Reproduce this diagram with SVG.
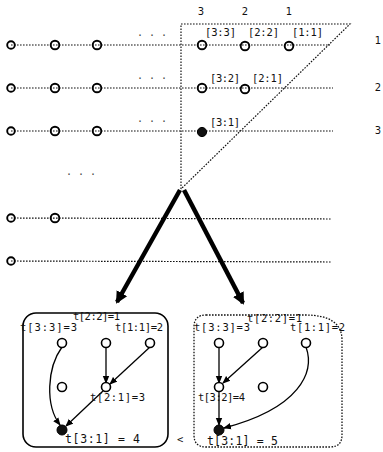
<svg xmlns="http://www.w3.org/2000/svg" width="383" height="452" viewBox="0 0 383 452">
<defs>
<style>
.dot{fill:none;stroke:#111;stroke-width:1.2;stroke-dasharray:1.6 1.4}
.n{fill:none;stroke:#000;stroke-width:1.9}
.bn{fill:#fff;stroke:#000;stroke-width:1.6}
.f{fill:#111;stroke:#000;stroke-width:1}
.e{fill:none;stroke:#000;stroke-width:1.3}
.lab{font-family:"DejaVu Sans Mono",monospace;font-size:10.5px;fill:#111}
.el{font-family:"DejaVu Sans Mono",monospace;font-size:10px;fill:#444}
.num{font-family:"DejaVu Sans",sans-serif;font-size:10px;fill:#111}
.big{fill:none;stroke:#000;stroke-width:4.5}
</style>
<marker id="ah" markerWidth="8" markerHeight="8" refX="7" refY="4" orient="auto" markerUnits="userSpaceOnUse">
<path d="M0,0.8 L8,4 L0,7.2 Z" fill="#000"/>
</marker>
<marker id="bh" markerWidth="14" markerHeight="14" refX="10" refY="7" orient="auto" markerUnits="userSpaceOnUse">
<path d="M0,1 L12,7 L0,13 Z" fill="#000"/>
</marker>
</defs>
<g id="connectors">
<line class="dot" x1="11" y1="45" x2="330" y2="45"/>
<line class="dot" x1="11" y1="88" x2="333" y2="88"/>
<line class="dot" x1="11" y1="131" x2="333" y2="131"/>
<line class="dot" x1="11" y1="218" x2="332" y2="219"/>
<line class="dot" x1="11" y1="261" x2="332" y2="262"/>
<path class="dot" d="M181,189 L181,24 L350,24 L181,189"/>
<line class="big" x1="180" y1="190" x2="117" y2="302" marker-end="url(#bh)"/>
<line class="big" x1="184" y1="190" x2="243" y2="303" marker-end="url(#bh)"/>
<path class="e" d="M62,347 C47,368 45,405 60,425" marker-end="url(#ah)"/>
<line class="e" x1="106" y1="347" x2="106" y2="383" marker-end="url(#ah)"/>
<line class="e" x1="150" y1="347" x2="110" y2="384" marker-end="url(#ah)"/>
<line class="e" x1="103" y1="391" x2="66" y2="426" marker-end="url(#ah)"/>
<line class="e" x1="219" y1="347" x2="219" y2="383" marker-end="url(#ah)"/>
<line class="e" x1="263" y1="347" x2="223" y2="383" marker-end="url(#ah)"/>
<line class="e" x1="219" y1="391" x2="219" y2="425" marker-end="url(#ah)"/>
<path class="e" d="M306,347 C315,372 300,408 224,428" marker-end="url(#ah)"/>
</g>
<g id="grid">
<text class="num" x="201" y="15" text-anchor="middle">3</text>
<text class="num" x="245" y="15" text-anchor="middle">2</text>
<text class="num" x="289" y="15" text-anchor="middle">1</text>
<text class="num" x="378" y="44" text-anchor="middle">1</text>
<text class="num" x="378" y="91" text-anchor="middle">2</text>
<text class="num" x="378" y="134" text-anchor="middle">3</text>
<text class="el" x="137" y="36">. . .</text>
<text class="el" x="137" y="79">. . .</text>
<text class="el" x="137" y="122">. . .</text>
<text class="el" x="66" y="175">. . .</text>
<text class="lab" x="205" y="36" textLength="31">[3:3]</text>
<text class="lab" x="248" y="36" textLength="31">[2:2]</text>
<text class="lab" x="292" y="36" textLength="31">[1:1]</text>
<text class="lab" x="210" y="82" textLength="30">[3:2]</text>
<text class="lab" x="252" y="82" textLength="31">[2:1]</text>
<text class="lab" x="210" y="126" textLength="30">[3:1]</text>
</g>
<g id="row-nodes">
<circle class="n" cx="11" cy="45" r="3.8"/>
<circle class="n" cx="55" cy="45" r="4.3"/>
<circle class="n" cx="97" cy="45" r="4.3"/>
<circle class="n" cx="202" cy="45" r="4.3"/>
<circle class="n" cx="245" cy="46" r="4.3"/>
<circle class="n" cx="289" cy="46" r="4.3"/>
<circle class="n" cx="11" cy="88" r="3.8"/>
<circle class="n" cx="55" cy="88" r="4.3"/>
<circle class="n" cx="97" cy="88" r="4.3"/>
<circle class="n" cx="202" cy="88" r="4.3"/>
<circle class="n" cx="245" cy="89" r="4.3"/>
<circle class="n" cx="11" cy="131" r="3.8"/>
<circle class="n" cx="55" cy="131" r="4.3"/>
<circle class="n" cx="97" cy="131" r="4.3"/>
<circle class="f" cx="202" cy="132" r="4.6"/>
<circle class="n" cx="11" cy="218" r="3.8"/>
<circle class="n" cx="55" cy="218" r="4.3"/>
<circle class="n" cx="11" cy="261" r="3.8"/>
</g>
<g id="box-left">
<rect x="23" y="313" width="145" height="134" rx="13" fill="none" stroke="#000" stroke-width="1.6"/>
<text class="lab" x="73" y="320" textLength="47">t[2:2]=1</text>
<text class="lab" x="20" y="331" textLength="57">t[3:3]=3</text>
<text class="lab" x="115" y="331" textLength="48">t[1:1]=2</text>
<circle class="bn" cx="62" cy="343" r="4.5"/>
<circle class="bn" cx="106" cy="343" r="4.5"/>
<circle class="bn" cx="150" cy="343" r="4.5"/>
<circle class="bn" cx="62" cy="387" r="4.5"/>
<circle class="bn" cx="106" cy="387" r="4.5"/>
<text class="lab" x="90" y="401" textLength="55">t[2:1]=3</text>
<circle class="f" cx="62" cy="430" r="5"/>
<text class="lab" x="65" y="443" textLength="75" style="font-size:11.5px">t[3:1] = 4</text>
</g>
<text class="lab" x="177" y="443">&lt;</text>
<g id="box-right">
<path class="dot" d="M206,315 L305,315 Q342,315 342,340 L342,435 Q342,447 330,447 L206,447 Q194,447 194,435 L194,327 Q194,315 206,315 Z" style="stroke-width:1.3"/>
<text class="lab" x="247" y="322" textLength="55">t[2:2]=1</text>
<text class="lab" x="194" y="331" textLength="56">t[3:3]=3</text>
<text class="lab" x="290" y="331" textLength="55">t[1:1]=2</text>
<circle class="bn" cx="219" cy="343" r="4.5"/>
<circle class="bn" cx="263" cy="343" r="4.5"/>
<circle class="bn" cx="306" cy="343" r="4.5"/>
<circle class="bn" cx="219" cy="387" r="4.5"/>
<circle class="bn" cx="263" cy="387" r="4.5"/>
<text class="lab" x="198" y="401" textLength="47">t[3:2]=4</text>
<circle class="f" cx="219" cy="430" r="5"/>
<text class="lab" x="207" y="445" textLength="71" style="font-size:11.5px">t[3:1] = 5</text>
</g>
</svg>
